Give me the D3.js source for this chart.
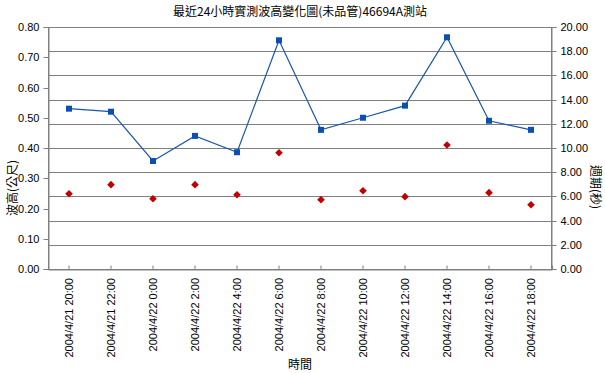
<!DOCTYPE html>
<html><head><meta charset="utf-8">
<script src="https://cdn.jsdelivr.net/npm/d3@7/dist/d3.min.js"></script>
<style>body{margin:0;background:#fff}svg{display:block}text{font-family:"Noto Sans CJK TC","DejaVu Sans",sans-serif}</style>
</head><body><svg id="c" width="605" height="373"></svg>
<script>
const categories = ["2004/4/21 20:00","2004/4/21 22:00","2004/4/22 0:00","2004/4/22 2:00","2004/4/22 4:00","2004/4/22 6:00","2004/4/22 8:00","2004/4/22 10:00","2004/4/22 12:00","2004/4/22 14:00","2004/4/22 16:00","2004/4/22 18:00"];
const waveHeight = [0.53,0.52,0.357,0.44,0.386,0.756,0.46,0.50,0.54,0.766,0.49,0.46];
const wavePeriod = [6.22,6.97,5.81,6.97,6.14,9.61,5.73,6.47,5.98,10.25,6.31,5.31];
const leftTicks = [0,0.1,0.2,0.3,0.4,0.5,0.6,0.7,0.8];
const rightTicks = [0,2,4,6,8,10,12,14,16,18,20];

const svg = d3.select("#c");
const L=48, R=552, T=27, B=269;
const x = d3.scaleBand().domain(categories).range([L,R]);
const yL = d3.scaleLinear().domain([0,0.8]).range([B,T]);
const yR = d3.scaleLinear().domain([0,20]).range([B,T]);

// gridlines (from secondary axis)
svg.append("g").selectAll("line").data(rightTicks.slice(1,-1)).join("line")
  .attr("x1",L).attr("x2",R).attr("y1",d=>Math.round(yR(d))+0.5).attr("y2",d=>Math.round(yR(d))+0.5)
  .attr("stroke","#808080").attr("stroke-width",1);
// plot border
svg.append("rect").attr("x",L+0.5).attr("y",T+0.5).attr("width",R-L-1).attr("height",B-T)
  .attr("fill","none").attr("stroke","#808080");

// left axis
const gL = svg.append("g").attr("transform",`translate(${L+0.5},0)`)
  .call(d3.axisLeft(yL).tickValues(leftTicks).tickFormat(d3.format(".2f")).tickSize(5).tickPadding(4));
// right axis
const gR = svg.append("g").attr("transform",`translate(${R-0.5},0)`)
  .call(d3.axisRight(yR).tickValues(rightTicks).tickFormat(d3.format(".2f")).tickSize(5).tickPadding(4));
// bottom axis
const gB = svg.append("g").attr("transform",`translate(0,${B+0.5})`)
  .call(d3.axisTop(x).tickSize(4).tickFormat(""));
[gL,gR,gB].forEach(g=>{
  g.select(".domain").attr("stroke","#808080");
  g.selectAll(".tick line").attr("stroke","#808080");
  g.selectAll("text").attr("font-size",11).attr("fill","#000").style("font-family","'Liberation Sans',Arial,sans-serif");
});
gL.selectAll(".tick line").attr("transform","translate(0,0)");
gL.selectAll(".tick").attr("transform",d=>`translate(0,${Math.round(yL(d))+0.5})`);
gR.selectAll(".tick").attr("transform",d=>`translate(0,${Math.round(yR(d))+0.5})`);

// x labels rotated
svg.append("g").selectAll("text").data(categories).join("text")
  .attr("transform",d=>`translate(${x(d)+x.bandwidth()/2+4},${B+9}) rotate(-90)`)
  .attr("text-anchor","end").attr("font-size",11)
  .style("font-family","'Liberation Sans',Arial,sans-serif")
  .text(d=>d);

// wave height line + squares
const cx = d=>x(d)+x.bandwidth()/2;
svg.append("path").datum(waveHeight)
  .attr("d",d3.line().x((d,i)=>cx(categories[i])).y(d=>yL(d)))
  .attr("fill","none").attr("stroke","#1a56a8").attr("stroke-width",1.2);
svg.append("g").selectAll("rect").data(waveHeight).join("rect")
  .attr("x",(d,i)=>cx(categories[i])-3).attr("y",d=>yL(d)-3)
  .attr("width",6).attr("height",6).attr("fill","#0b4fb0");
// period diamonds
svg.append("g").selectAll("path").data(wavePeriod).join("path")
  .attr("transform",(d,i)=>`translate(${cx(categories[i])},${yR(d)})`)
  .attr("d","M0,-3.8L3.8,0L0,3.8L-3.8,0Z").attr("fill","#c00000");

// titles
svg.append("text").attr("x",300).attr("y",16).attr("text-anchor","middle").attr("font-size",12).text("最近24小時實測波高變化圖(未品管)46694A測站");
svg.append("text").attr("transform","translate(17,188) rotate(-90)").attr("text-anchor","middle").attr("font-size",12).text("波高(公尺)");
svg.append("text").attr("transform","translate(591,187) rotate(90)").attr("text-anchor","middle").attr("font-size",12).text("週期(秒)");
svg.append("text").attr("x",300).attr("y",369).attr("text-anchor","middle").attr("font-size",12).text("時間");
</script></body></html>
